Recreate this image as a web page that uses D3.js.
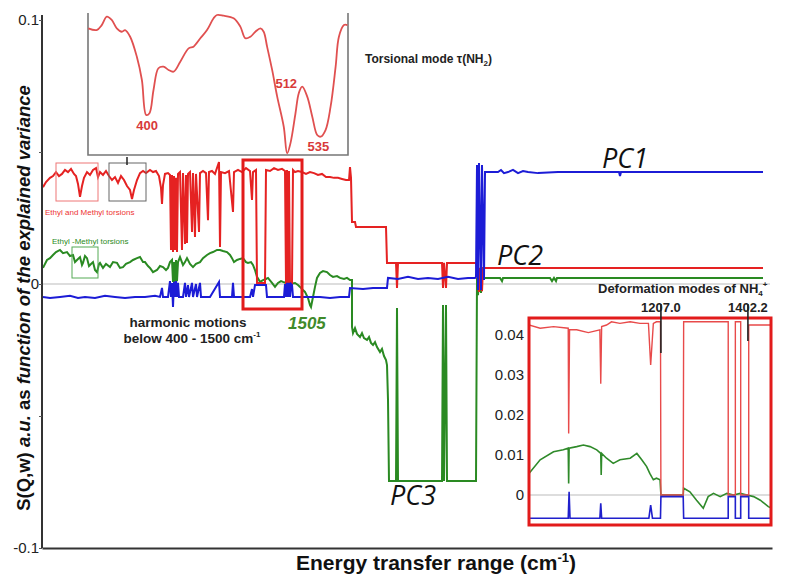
<!DOCTYPE html>
<html><head><meta charset="utf-8">
<script src="https://cdn.jsdelivr.net/npm/d3@7"></script>
<style>body{margin:0;background:#fff}svg{display:block}</style>
</head><body>
<svg id="c" width="787" height="574"></svg>
<script>
// ---------- main chart data (x = channel index along energy transfer range, y = S(Q,w)) ----------
const pc1 = [[0,-0.0049],[7,-0.0053],[17,-0.0049],[27,-0.0045],[35,-0.0053],[42,-0.0049],[52,-0.0053],[62,-0.0045],[72,-0.0049],[82,-0.0053],[92,-0.0049],[102,-0.0049],[112,-0.0045],[117,-0.0049],[119,-0.0015],[120,-0.0049],[125,-0.0049],[127,0.0011],[128,-0.0049],[129,0.0004],[130,-0.0087],[131,0.0008],[132,-0.0049],[133,0.0011],[134,-0.0049],[135,0.0004],[136,-0.0049],[140,-0.0049],[142,0.0004],[143,-0.0049],[145,-0.0004],[146,-0.0049],[149,0.0004],[150,-0.0049],[153,0],[154,-0.0049],[157,0.0004],[158,-0.0049],[167,-0.0049],[176,0.0008],[177,-0.0049],[189,-0.0049],[190,0.0004],[191,-0.0049],[202,-0.0049],[207,-0.0049],[209,-0.0019],[210,-0.0049],[212,-0.0004],[223,-0.0004],[224,-0.0049],[241,-0.0049],[242,0],[243,-0.0049],[244,0.0004],[245,-0.0049],[246,0.0004],[247,-0.0049],[248,0],[249,-0.0004],[250,-0.0049],[257,-0.0049],[267,-0.0049],[277,-0.0049],[287,-0.0053],[297,-0.0049],[306,-0.0049],[307,-0.0015],[320,-0.0019],[330,-0.0015],[344,-0.0015],[345,0.0023],[355,0.0019],[365,0.0027],[375,0.0019],[385,0.0023],[395,0.0019],[405,0.0027],[415,0.0019],[425,0.0023],[432,0.0023],[433,0.0027],[434,0.0451],[435,-0.0023],[436,0.0458],[438,-0.0023],[439,0.0451],[441,0.0015],[442,0.0424],[455,0.0424],[458,0.0432],[461,0.0420],[465,0.0424],[470,0.0432],[475,0.0420],[480,0.0428],[485,0.0424],[495,0.0420],[515,0.0424],[555,0.0424],[576,0.0424],[577,0.0409],[578,0.0424],[720,0.0424]];

const pc2 = [[0,0.0367],[3,0.0386],[7,0.0402],[10,0.0409],[13,0.0424],[16,0.0409],[19,0.0417],[22,0.0432],[25,0.0424],[28,0.0436],[31,0.0417],[33,0.0409],[35,0.0379],[37,0.0330],[39,0.0371],[41,0.0402],[44,0.0424],[47,0.0413],[50,0.0432],[53,0.0439],[55,0.0405],[57,0.0424],[60,0.0413],[63,0.0428],[66,0.0409],[69,0.0394],[72,0.0405],[75,0.0383],[78,0.0409],[81,0.0394],[84,0.0371],[87,0.0356],[89,0.0322],[91,0.0356],[94,0.0394],[97,0.0420],[100,0.0428],[103,0.0420],[107,0.0432],[110,0.0424],[113,0.0428],[116,0.0409],[118,0.0364],[119,0.0303],[120,0.0375],[122,0.0417],[125,0.0420],[127,0.0413],[128,0.0129],[129,0.0413],[130,0.0121],[131,0.0409],[132,0.0129],[133,0.0402],[134,0.0121],[135,0.0417],[137,0.0424],[139,0.0129],[140,0.0420],[142,0.0152],[143,0.0413],[144,0.0155],[145,0.0417],[147,0.0424],[149,0.0197],[150,0.0420],[152,0.0178],[153,0.0417],[156,0.0197],[157,0.0420],[160,0.0428],[163,0.0420],[165,0.0242],[166,0.0424],[169,0.0428],[172,0.0417],[176,0.0462],[177,0.0140],[178,0.0424],[182,0.0420],[186,0.0428],[190,0.0273],[191,0.0424],[195,0.0432],[199,0.0424],[203,0.0439],[207,0.0428],[209,0.0318],[210,0.0424],[213,0.0432],[214,0.0004],[222,0.0004],[223,0.0432],[227,0.0428],[231,0.0439],[235,0.0432],[239,0.0436],[242,0.0428],[243,0],[244,0.0432],[245,-0.0004],[246,0.0428],[247,-0.0004],[249,0],[250,0.0432],[252,0.0424],[255,0.0428],[259,0.0424],[263,0.0417],[267,0.0424],[271,0.0420],[275,0.0413],[279,0.0417],[283,0.0405],[287,0.0405],[291,0.0402],[295,0.0402],[299,0.0398],[303,0.0394],[306,0.0394],[307,0.0443],[308,0.0402],[309,0.0235],[312,0.0235],[313,0.0216],[343,0.0216],[344,0.0080],[353,0.0080],[354,-0.0015],[355,0.0080],[399,0.0080],[400,-0.0015],[401,0.0080],[403,-0.0015],[404,0.0080],[433,0.0080],[434,0.0053],[436,-0.0030],[437,0.0061],[439,-0.0027],[440,0.0061],[720,0.0061]];

const pc3 = [[0,0.0061],[4,0.0091],[7,0.0098],[10,0.0110],[13,0.0121],[17,0.0129],[20,0.0117],[24,0.0121],[27,0.0106],[30,0.0110],[32,0.0083],[34,0.0091],[37,0.0102],[39,0.0072],[40,0.0080],[42,0.0106],[44,0.0098],[46,0.0068],[47,0.0072],[50,0.0083],[52,0.0053],[54,0.0045],[56,0.0076],[57,0.0080],[60,0.0061],[63,0.0076],[67,0.0064],[70,0.0083],[74,0.0080],[77,0.0061],[80,0.0064],[83,0.0076],[87,0.0083],[90,0.0091],[94,0.0098],[97,0.0102],[100,0.0083],[102,0.0083],[105,0.0068],[107,0.0061],[110,0.0045],[114,0.0053],[117,0.0068],[120,0.0064],[123,0.0053],[125,0.0061],[127,0.0083],[129,0.0091],[130,0.0008],[131,0.0083],[132,0.0004],[133,0.0091],[134,0.0011],[135,0.0083],[137,0.0102],[140,0.0072],[142,0.0083],[144,0.0098],[147,0.0076],[150,0.0064],[153,0.0076],[157,0.0083],[160,0.0098],[164,0.0110],[167,0.0117],[170,0.0121],[174,0.0129],[177,0.0129],[180,0.0125],[184,0.0121],[187,0.0110],[189,0.0098],[191,0.0083],[194,0.0091],[197,0.0095],[200,0.0098],[203,0.0083],[205,0.0080],[208,0.0083],[210,0.0072],[212,0.0053],[214,0.0027],[217,0.0008],[220,0.0015],[223,0.0019],[225,0.0023],[229,0.0004],[232,-0.0011],[235,0.0004],[238,0.0011],[240,0.0008],[243,0.0004],[247,0],[252,0.0004],[255,-0.0004],[257,-0.0011],[260,-0.0023],[262,-0.0030],[265,-0.0053],[267,-0.0080],[268,-0.0087],[269,-0.0068],[270,-0.0049],[272,-0.0011],[274,0.0023],[277,0.0042],[280,0.0049],[284,0.0045],[287,0.0034],[290,0.0027],[294,0.0030],[297,0.0023],[301,0.0019],[304,0.0023],[307,0.0015],[309,0.0015],[309,-0.0163],[310,-0.0186],[312,-0.0167],[314,-0.0189],[317,-0.0201],[319,-0.0186],[321,-0.0205],[324,-0.0212],[326,-0.0201],[328,-0.0223],[330,-0.0231],[332,-0.0220],[334,-0.0239],[337,-0.0258],[339,-0.0246],[341,-0.0273],[343,-0.0288],[344,-0.0307],[345,-0.0439],[346,-0.0746],[353,-0.0746],[354,-0.0091],[355,-0.0746],[399,-0.0746],[400,-0.0080],[401,-0.0746],[403,-0.0080],[404,-0.0746],[433,-0.0746],[434,0.0023],[435,-0.0042],[436,0.0023],[438,-0.0034],[439,0.0023],[457,0.0023],[459,0.0011],[460,0.0023],[507,0.0023],[509,0.0011],[511,0.0023],[513,0.0011],[514,0.0023],[720,0.0023]];

const yTickValues = [-0.1,-0.05,0,0.05,0.1];
const yTickLabels = {"-0.1":"-0.1","0":"0","0.1":"0.1"};

// ---------- top inset: torsional mode spectrum ----------
const torsE = [354.2,360.9,364.9,368.9,372.8,376.8,380.8,383.4,387.4,392.7,396.7,400.1,402.7,405.9,409.8,413.8,417.8,421.8,427.1,433.7,437.6,443.0,448.3,453.5,456.2,461.5,469.4,474.7,478.7,482.7,486.6,490.6,493.2,495.9,499.9,503.9,509.1,511.8,514.4,518.4,521.0,523.7,527.7,531.7,535.6,538.3,542.2,546.2,550.2,552.8,556.8,559.5];
const torsI = [0.892,0.880,0.915,0.974,0.951,0.892,0.868,0.880,0.833,0.692,0.528,0.282,0.294,0.458,0.611,0.622,0.599,0.587,0.657,0.751,0.763,0.822,0.880,0.963,0.986,0.981,0.963,0.904,0.822,0.833,0.868,0.892,0.868,0.763,0.599,0.411,0.199,0.012,0.082,0.294,0.435,0.481,0.411,0.270,0.141,0.129,0.176,0.340,0.622,0.833,0.915,0.915];
const torsPeaks = [{e:400,label:"400"},{e:512,label:"512"},{e:535,label:"535"}];

// ---------- bottom-right inset: deformation modes ----------
const defRed = [[911,0.0425],[936,0.0417],[966,0.0421],[999,0.0417],[1000,0.0154],[1002,0.0413],[1018,0.0413],[1044,0.0406],[1070,0.0413],[1072,0.0278],[1074,0.0421],[1085,0.0425],[1096,0.0433],[1115,0.0429],[1138,0.0433],[1160,0.0429],[1179,0.0429],[1184,0.0325],[1190,0.0429],[1197,0.0433],[1206,0.0433],[1207,0],[1257,0],[1258,0.0433],[1358,0.0433],[1358,0],[1374,0],[1374,0.0433],[1386,0.0433],[1386,0],[1404,0],[1404,0.0425],[1455,0.0425]];
const defGreen = [[911,0.0054],[936,0.0088],[966,0.0108],[988,0.0113],[999,0.0117],[1000,0.0029],[1001,0.0117],[1018,0.0121],[1033,0.0125],[1048,0.0121],[1063,0.0113],[1072,0.0104],[1073,0.0050],[1074,0.0104],[1085,0.0092],[1100,0.0079],[1115,0.0088],[1138,0.0092],[1153,0.0104],[1164,0.0088],[1175,0.0071],[1182,0.0054],[1190,0.0038],[1197,0.0042],[1205,0.0038],[1207,0],[1257,0],[1258,0.0017],[1272,0.0008],[1287,-0.0013],[1302,-0.0033],[1313,-0.0004],[1325,0.0004],[1340,-0.0004],[1355,0.0004],[1370,0],[1385,0.0004],[1400,0],[1415,-0.0004],[1430,-0.0013],[1448,-0.0029],[1455,-0.0033]];
const defBlue = [[911,-0.0058],[999,-0.0058],[1001,0.0008],[1003,-0.0058],[1070,-0.0058],[1072,-0.0021],[1074,-0.0058],[1180,-0.0058],[1184,-0.0025],[1188,-0.0058],[1206,-0.0058],[1207,-0.0004],[1257,-0.0004],[1258,-0.0058],[1358,-0.0058],[1358,-0.0004],[1374,-0.0004],[1374,-0.0058],[1386,-0.0058],[1386,-0.0004],[1404,-0.0004],[1404,-0.0058],[1455,-0.0058]];
const defTicks = [0,0.01,0.02,0.03,0.04];
const defModes = [{e:1207.0,label:"1207.0",bottom:0.0355},{e:1402.2,label:"1402.2",bottom:0.0385}];

// ---------- drawing ----------
const svg = d3.select('#c');
const FONT = "'Liberation Sans', Arial, sans-serif";
const x = d3.scaleLinear().domain([0,722]).range([43,765]);
const y = d3.scaleLinear().domain([-0.1,0.1]).range([548,20]);
const line = d3.line().x(d=>x(d[0])).y(d=>y(d[1]));

// zero line
svg.append('line').attr('x1',42).attr('x2',770).attr('y1',y(0)).attr('y2',y(0))
  .attr('stroke','#bbb').attr('stroke-width',1.2);

// series
svg.append('path').datum(pc3).attr('d',line).attr('fill','none').attr('stroke','#2a8a22').attr('stroke-width',2);
svg.append('path').datum(pc2).attr('d',line).attr('fill','none').attr('stroke','#e52222').attr('stroke-width',2);
svg.append('path').datum(pc1).attr('d',line).attr('fill','none').attr('stroke','#1c1cd6').attr('stroke-width',2);

// y axis
const yAxis = d3.axisLeft(y).tickValues(yTickValues).tickSize(3).tickSizeOuter(0)
  .tickFormat(d=>yTickLabels[String(d)]||"");
const gy = svg.append('g').attr('transform','translate(42,0)').call(yAxis);
gy.select('.domain').attr('stroke','#333').attr('stroke-width',2).attr('d','M0,15V548');
gy.selectAll('.tick line').attr('stroke','#555');
gy.selectAll('.tick text').attr('font-family',FONT).attr('font-size',15).attr('fill','#222').attr('x',-3);

// x axis (no ticks)
const gx = svg.append('g').attr('transform','translate(0,548)')
  .call(d3.axisBottom(d3.scaleLinear().domain([0,1]).range([42,772])).tickValues([]).tickSizeOuter(0));
gx.select('.domain').attr('stroke','#333').attr('stroke-width',2.2);

// axis titles
svg.append('text').attr('x',436).attr('y',570).attr('text-anchor','middle')
  .attr('font-family',FONT).attr('font-weight','bold').attr('font-size',21).attr('fill','#111')
  .html('Energy transfer range (cm<tspan dy="-8" font-size="13">-1</tspan><tspan dy="8">)</tspan>');
const yl = svg.append('text').attr('transform','translate(30,298) rotate(-90)').attr('text-anchor','middle')
  .attr('font-family',FONT).attr('font-weight','bold').attr('font-size',18.5).attr('fill','#111');
yl.append('tspan').text('S(Q,w) ');
yl.append('tspan').attr('font-style','italic').text('a.u. ');
yl.append('tspan').text('as ');
yl.append('tspan').attr('font-style','italic').text('function of the explained variance');

// highlight boxes
svg.append('rect').attr('x',243).attr('y',160).attr('width',59).attr('height',149)
  .attr('fill','none').attr('stroke','#e21b1b').attr('stroke-width',3);
svg.append('rect').attr('x',56).attr('y',163).attr('width',42).attr('height',38)
  .attr('fill','none').attr('stroke','#e77').attr('stroke-width',1);
svg.append('rect').attr('x',109).attr('y',163).attr('width',37).attr('height',38)
  .attr('fill','none').attr('stroke','#666').attr('stroke-width',1);
svg.append('line').attr('x1',127).attr('x2',127).attr('y1',157).attr('y2',165).attr('stroke','#222').attr('stroke-width',1.5);
svg.append('rect').attr('x',72).attr('y',247).attr('width',26).attr('height',31)
  .attr('fill','none').attr('stroke','#5a5').attr('stroke-width',1);
svg.append('text').attr('x',45).attr('y',215).attr('font-family',FONT).attr('font-size',8).attr('fill','#e33')
  .text('Ethyl and Methyl torsions');
svg.append('text').attr('x',52).attr('y',244).attr('font-family',FONT).attr('font-size',8).attr('fill','#2a8a22')
  .text('Ethyl -Methyl torsions');

// labels
const pcFont = "'Open Sans', 'DejaVu Sans', sans-serif";
svg.append('text').attr('x',602).attr('y',168).attr('font-family',pcFont).attr('font-style','italic').attr('font-size',27).attr('fill','#111').text('PC1');
svg.append('text').attr('x',497).attr('y',265).attr('font-family',pcFont).attr('font-style','italic').attr('font-size',27).attr('fill','#111').text('PC2');
svg.append('text').attr('x',390).attr('y',505).attr('font-family',pcFont).attr('font-style','italic').attr('font-size',27).attr('fill','#111').text('PC3');
svg.append('text').attr('x',288).attr('y',329).attr('font-family',FONT).attr('font-style','italic').attr('font-weight','bold').attr('font-size',17).attr('fill','#3f8a2a').text('1505');
svg.append('text').attr('x',188).attr('y',327).attr('text-anchor','middle').attr('font-family',FONT).attr('font-weight','bold').attr('font-size',13.5).attr('fill','#222').text('harmonic motions');
svg.append('text').attr('x',192).attr('y',343).attr('text-anchor','middle').attr('font-family',FONT).attr('font-weight','bold').attr('font-size',13.5).attr('fill','#222')
  .html('below 400 - 1500 cm<tspan dy="-6" font-size="8">-1</tspan>');
svg.append('text').attr('x',365).attr('y',63).attr('font-family',FONT).attr('font-weight','bold').attr('font-size',12).attr('fill','#222')
  .html('Torsional mode τ(NH<tspan dy="3" font-size="8">2</tspan><tspan dy="-3">)</tspan>');

// ---------- top inset ----------
const ix = d3.scaleLinear().domain([354,560]).range([88,348]);
const iy = d3.scaleLinear().domain([0,1]).range([155,13]);
const g1 = svg.append('g');
g1.append('rect').attr('x',88).attr('y',13).attr('width',260).attr('height',142).attr('fill','#fff');
g1.append('path').attr('d',`M${ix(354)},${iy(1.0)}V${iy(0)}H${ix(560)}V${iy(1.0)}`)
  .attr('fill','none').attr('stroke','#777').attr('stroke-width',1.6);
g1.append('path').datum(d3.zip(torsE,torsI))
  .attr('d',d3.line().curve(d3.curveCatmullRom).x(d=>ix(d[0])).y(d=>iy(d[1])))
  .attr('fill','none').attr('stroke','#e05050').attr('stroke-width',1.8);
const peakPos = {"400":[ix(400)+1,130,'middle'],"512":[ix(512)-12,88,'start'],"535":[ix(535)-9,151,'start']};
torsPeaks.forEach(p=>{
  const pos = peakPos[p.label];
  g1.append('text').attr('x',pos[0]).attr('y',pos[1]).attr('text-anchor',pos[2])
    .attr('font-family',FONT).attr('font-weight','bold').attr('font-size',13).attr('fill','#d83a3a').text(p.label);
});

// ---------- bottom-right inset ----------
const bx = d3.scaleLinear().domain([911,1454]).range([529,771]);
const by = d3.scaleLinear().domain([0,0.04]).range([495,335]);
const g2 = svg.append('g');
g2.append('rect').attr('x',529).attr('y',318).attr('width',242).attr('height',207).attr('fill','#fff');
g2.append('clipPath').attr('id','bclip').append('rect').attr('x',530).attr('y',319).attr('width',240).attr('height',205);
g2.append('line').attr('x1',529).attr('x2',771).attr('y1',by(0)).attr('y2',by(0)).attr('stroke','#bbb').attr('stroke-width',1);
const bl = d3.line().x(d=>bx(d[0])).y(d=>by(d[1]));
const gc = g2.append('g').attr('clip-path','url(#bclip)');
gc.append('path').datum(defGreen).attr('d',bl).attr('fill','none').attr('stroke','#2f8a2a').attr('stroke-width',1.6);
gc.append('path').datum(defRed).attr('d',bl).attr('fill','none').attr('stroke','#e84a4a').attr('stroke-width',1.4);
gc.append('path').datum(defBlue).attr('d',bl).attr('fill','none').attr('stroke','#2020cc').attr('stroke-width',1.6);
g2.append('rect').attr('x',529).attr('y',318).attr('width',242).attr('height',207)
  .attr('fill','none').attr('stroke','#e21b1b').attr('stroke-width',3);
defTicks.forEach(t=>{
  g2.append('text').attr('x',524).attr('y',by(t)+5).attr('text-anchor','end')
    .attr('font-family',FONT).attr('font-size',15).attr('fill','#222').text(t===0?'0':t.toFixed(2));
});
defModes.forEach(m=>{
  g2.append('line').attr('x1',bx(m.e)).attr('x2',bx(m.e)).attr('y1',304).attr('y2',by(m.bottom))
    .attr('stroke','#222').attr('stroke-width',1.6);
  g2.append('text').attr('x',bx(m.e)).attr('y',312).attr('text-anchor','middle')
    .attr('font-family',FONT).attr('font-weight','bold').attr('font-size',13).attr('fill','#222').text(m.label);
});
g2.append('text').attr('x',598).attr('y',293).attr('font-family',FONT).attr('font-weight','bold').attr('font-size',13).attr('fill','#222')
  .html('Deformation modes of NH<tspan dy="3" font-size="8">4</tspan><tspan dy="-9" font-size="8">+</tspan>');
</script>
</body></html>
